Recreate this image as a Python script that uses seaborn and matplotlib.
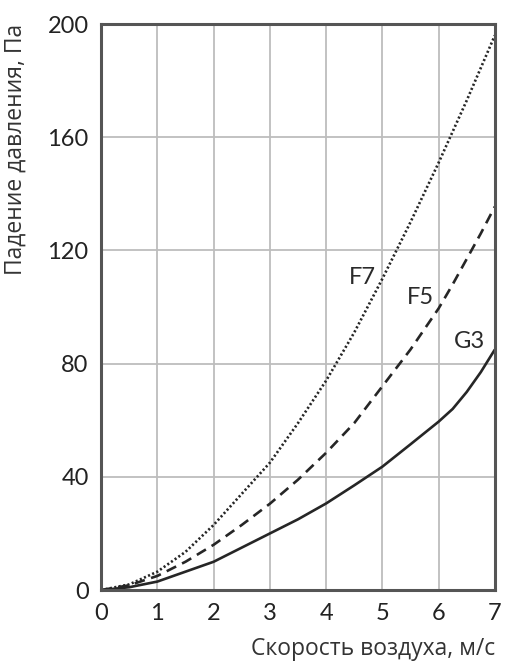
import matplotlib
matplotlib.use("Agg")
import matplotlib.pyplot as plt
import seaborn as sns
import pandas as pd

# air speed, m/s
speed = [0, 0.5, 1, 1.5, 2, 2.5, 3, 3.5, 4, 4.5, 5, 5.5, 6, 6.25, 6.5, 6.75, 7]
# pressure drop, Pa
g3 = [0, 1, 3, 6.5, 10, 15, 20, 25, 30.6, 37, 43.6, 51.5, 59.5, 64, 70, 77, 85]
f5 = [0, 1.7, 5, 10, 16, 23, 30.5, 39, 48.5, 59, 72, 85, 99.5, 108, 117, 126, 135.5]
f7 = [0, 2, 6.5, 13.5, 23, 34, 45, 59, 74, 91, 110, 130, 151, 162, 173, 184.5, 196]

filters = ["G3", "F5", "F7"]
x_ticks = [0, 1, 2, 3, 4, 5, 6, 7]
y_ticks = [0, 40, 80, 120, 160, 200]

sns.set_style("white")
plt.rcParams["font.family"] = ["Lato", "Open Sans", "DejaVu Sans"]

df = pd.DataFrame({"speed": speed * 3,
                   "drop": g3 + f5 + f7,
                   "filter": [f for f in filters for _ in speed]})

fig = plt.figure(figsize=(5.16, 6.69), dpi=100)
ax = fig.add_axes([0.196, 0.118, 0.763, 0.846])

styles = {"G3": (0, ()), "F5": (0, (4, 2.5)), "F7": (0, (0.8, 0.9))}
for name in filters:
    sns.lineplot(data=df[df["filter"] == name], x="speed", y="drop", ax=ax,
                 color="#262626", linewidth=1.9, linestyle=styles[name])

ax.text(4.65, 110.5, "F7", fontsize=17, color="#2a2a2a", ha="center", va="center")
ax.text(5.67, 103.5, "F5", fontsize=17, color="#2a2a2a", ha="center", va="center")
ax.text(6.55, 88, "G3", fontsize=17, color="#2a2a2a", ha="center", va="center")

ax.set_xlim(0, 7)
ax.set_ylim(0, 200)
ax.set_xticks(x_ticks)
ax.set_yticks(y_ticks)
ax.grid(True, color="#bdbdbd", linewidth=1.3)
for s in ax.spines.values():
    s.set_color("#555555")
    s.set_linewidth(2.2)
ax.tick_params(length=0, labelsize=17, labelcolor="#222222", pad=9)

ax.set_xlabel("Скорость воздуха, м/с", fontsize=16.5, color="#333333",
              loc="right", labelpad=10, family=["Open Sans", "DejaVu Sans"])
ax.set_ylabel("Падение давления, Па", fontsize=16.5, color="#333333",
              loc="top", labelpad=14, family=["Open Sans", "DejaVu Sans"])

fig.savefig("out.png", dpi=100)
